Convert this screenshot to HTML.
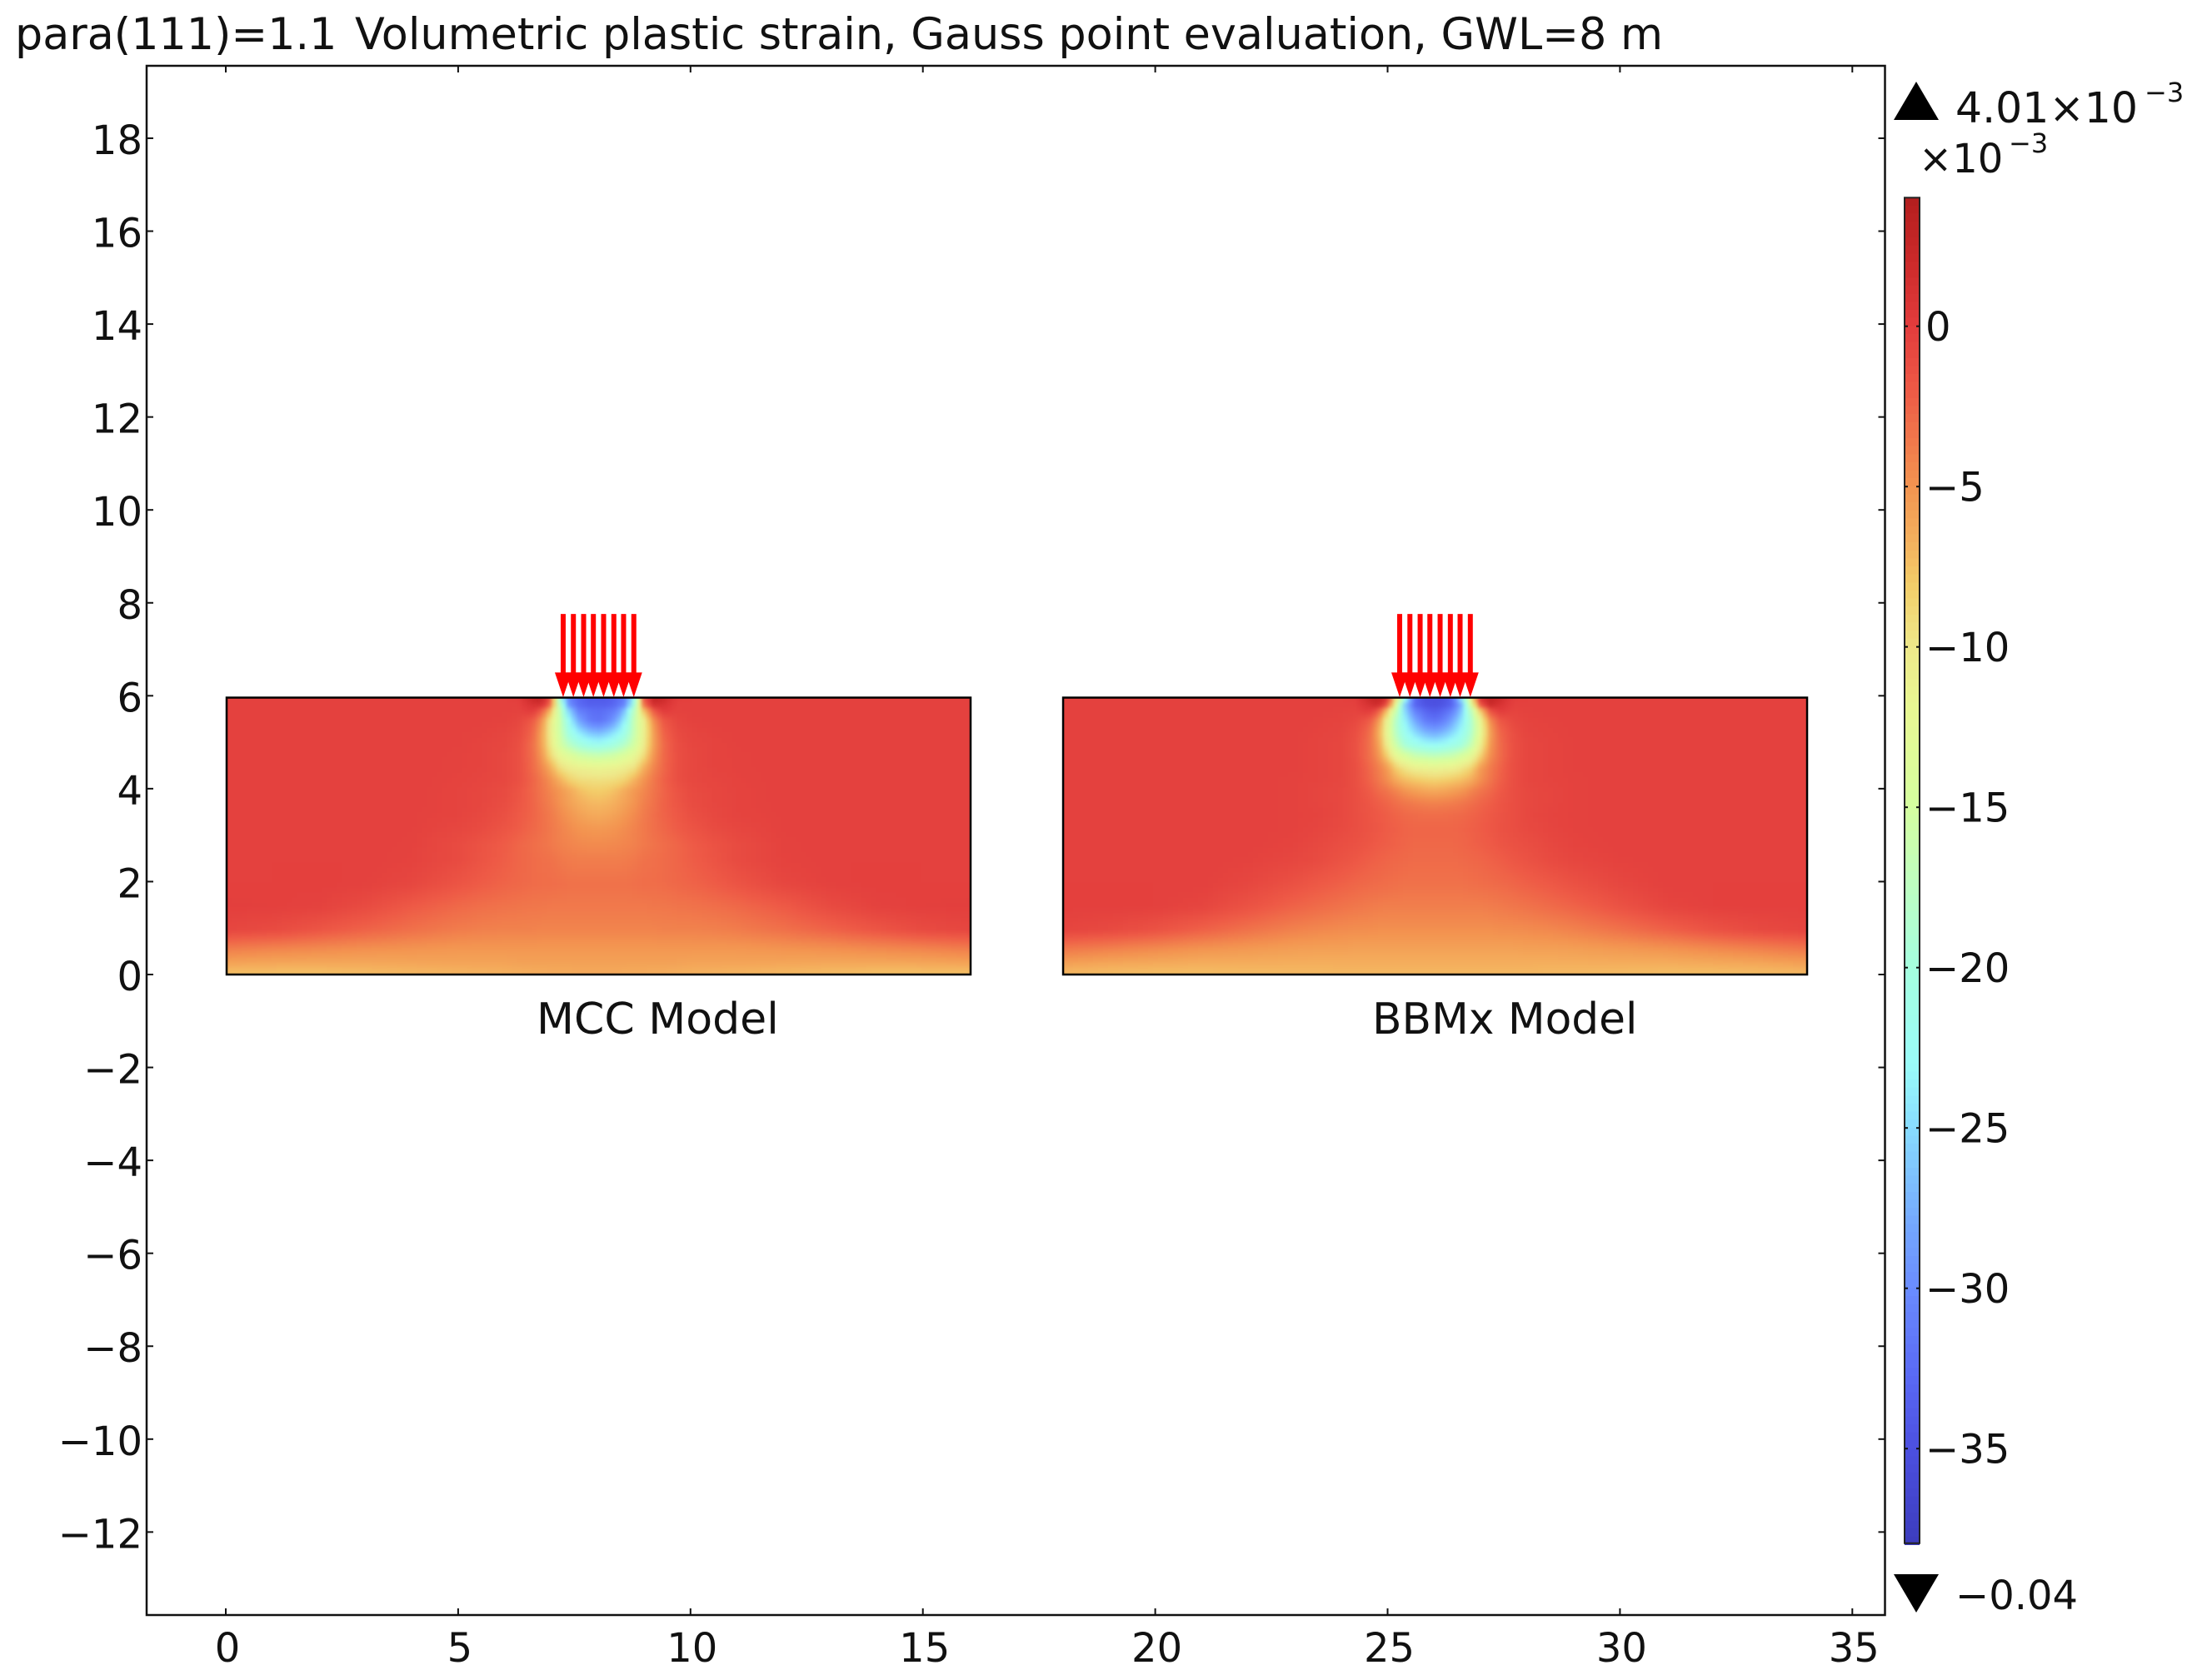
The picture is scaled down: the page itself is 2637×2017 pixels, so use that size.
<!DOCTYPE html>
<html lang="en">
<head>
<meta charset="utf-8">
<title>Volumetric plastic strain</title>
<style>
html,body{margin:0;padding:0;background:#fff;}
svg{display:block;}
text{font-family:"DejaVu Sans","Liberation Sans",sans-serif;fill:#111;font-size:48px;}
</style>
</head>
<body>
<svg id="chart" xmlns="http://www.w3.org/2000/svg" width="2637" height="2017" viewBox="0 0 2637 2017">
  <defs>
    <filter id="soften" filterUnits="userSpaceOnUse" x="200" y="780" width="2060" height="460" color-interpolation-filters="sRGB">
      <feGaussianBlur stdDeviation="2.5"/>
    </filter>
  </defs>
  <text x="18" y="59" style="font-size:52.3px">para(111)=1.1</text>
  <text x="426" y="59" style="font-size:52.4px">Volumetric plastic strain, Gauss point evaluation, GWL=8 m</text>
  <g id="fields"></g>
  <g id="arrows"></g>
  <rect x="176" y="79" width="2086.5" height="1860" fill="none" stroke="#111" stroke-width="2.5"/>
  <g id="ticks"></g>
  <text x="644" y="1241" style="font-size:52.1px">MCC Model</text>
  <text x="1647" y="1241" style="font-size:51.8px">BBMx Model</text>
  <g id="colorbar"></g>
  <polygon points="2300,98 2327,144 2273,144" fill="#000"/>
  <text x="2347" y="147" style="font-size:50.5px">4.01×10</text>
  <text x="2574" y="122" style="font-size:32px">−3</text>
  <text x="2303" y="207">×10</text>
  <text x="2411" y="183" style="font-size:32px">−3</text>
  <polygon points="2273,1890 2327,1890 2300,1936" fill="#000"/>
  <text x="2347" y="1932">−0.04</text>
</svg>
<script>
// Axis tick values
const xTickValues = [0, 5, 10, 15, 20, 25, 30, 35];
const yTickValues = [18, 16, 14, 12, 10, 8, 6, 4, 2, 0, -2, -4, -6, -8, -10, -12];
const colorbarTicks = [0, -5, -10, -15, -20, -25, -30, -35];
const colorbarMax = 4.01;
const colorbarMin = -37.95;

// Colormap, in units of 1e-3 strain
const cmapValues = [4, 2, 0, -2, -5, -7, -8, -10, -12, -15, -18, -20, -23, -25, -28, -30, -33, -35, -38];
const cmapColors = ['#b31e1e', '#cc2a2a', '#e23c3c', '#ee5a46', '#f39450', '#f4b660', '#f3cc68', '#eee88a', '#e8f893', '#d5ffa0', '#b8ffc8', '#a5ffdf', '#9afcf8', '#88dcff', '#74a8ff', '#6a8cff', '#5866f2', '#4c50e0', '#3c3cbc'];

// Panels span 16 m; values below cover the left half up to the load axis at local x = 8
const mccOriginX = 0;
const bbmxOriginX = 18;
const panelWidth = 16;
const panelHeight = 5.96;
const fieldColumns = [0, 1, 2, 3, 4, 5, 5.5, 6, 6.3, 6.6, 6.8, 7, 7.2, 7.4, 7.6, 7.8, 8];
const fieldRows = [5.92, 5.8, 5.68, 5.45, 5.2, 4.95, 4.7, 4.45, 4.2, 3.95, 3.7, 3.45, 3.15, 2.8, 2.45, 1.95, 1.45, 0.95, 0.55, 0.25, 0.05];

const mccField = [
  [-.3, -.3, -.3, -.3, -.3, -.3, -.3, -.3, -.2, 2, 2.5, -2, -21, -31, -33, -34, -34],
  [-.3, -.3, -.3, -.3, -.3, -.3, -.3, -.3, -.3, 1, 1.2, -3.5, -19, -30, -32.5, -33.5, -33.5],
  [-.3, -.3, -.3, -.3, -.3, -.3, -.3, -.35, -.4, .2, -2, -7.5, -17, -26, -31, -32, -32.5],
  [-.3, -.3, -.3, -.3, -.3, -.3, -.35, -.4, -.7, -2, -5, -11, -16, -23, -28, -31, -32],
  [-.3, -.3, -.3, -.3, -.3, -.35, -.4, -.6, -1, -2.6, -5.8, -11, -16, -21, -24, -26, -27],
  [-.3, -.3, -.3, -.3, -.3, -.35, -.5, -.7, -1.2, -3, -5.8, -10.5, -15, -18, -20, -21.5, -22],
  [-.3, -.3, -.3, -.3, -.3, -.4, -.5, -.8, -1.3, -2.9, -5.2, -9, -12, -13.5, -15, -15.5, -16],
  [-.3, -.3, -.3, -.3, -.3, -.4, -.5, -.8, -1.3, -2.8, -4.3, -6.5, -9.5, -10.5, -11, -11.3, -11.5],
  [-.3, -.3, -.3, -.3, -.3, -.45, -.6, -.8, -1.3, -2.5, -3.6, -5, -6.8, -8.5, -9.2, -9.4, -9.5],
  [-.3, -.3, -.3, -.3, -.3, -.5, -.7, -1, -1.6, -2.6, -3.4, -4.3, -5.2, -6.2, -7.3, -7.9, -8.1],
  [-.3, -.3, -.3, -.3, -.3, -.5, -.7, -1.1, -1.7, -2.5, -3.3, -4, -5, -5.8, -6.5, -7, -7.2],
  [-.3, -.3, -.3, -.3, -.35, -.5, -.8, -1.3, -1.9, -2.5, -3.1, -3.7, -4.5, -5.2, -5.8, -6.2, -6.4],
  [-.3, -.3, -.3, -.3, -.35, -.7, -1, -1.6, -2.1, -2.7, -3.1, -3.6, -4.1, -4.6, -5, -5.2, -5.3],
  [-.3, -.3, -.3, -.3, -.4, -1, -1.5, -2.1, -2.6, -3, -3.3, -3.6, -4, -4.2, -4.4, -4.5, -4.5],
  [-.3, -.3, -.3, -.3, -.45, -1, -1.6, -2.2, -2.6, -2.9, -3.1, -3.2, -3.5, -3.7, -3.8, -3.8, -3.8],
  [-.3, -.3, -.25, -.35, -.7, -1.6, -2.1, -2.5, -2.7, -2.9, -3, -3, -3.1, -3.2, -3.2, -3.2, -3.2],
  [-.2, -.25, -.4, -1, -2, -2.8, -3.1, -3.3, -3.4, -3.5, -3.5, -3.6, -3.6, -3.6, -3.6, -3.6, -3.6],
  [-.7, -1, -1.7, -2.5, -3.2, -3.8, -4, -4.1, -4.1, -4.1, -4.2, -4.2, -4.2, -4.2, -4.2, -4.2, -4.2],
  [-3.8, -4.2, -4.5, -4.8, -5, -5.2, -5.2, -5.2, -5.2, -5.2, -5.2, -5.2, -5.2, -5.2, -5.2, -5.2, -5.2],
  [-5.8, -6, -6.1, -6.1, -6, -5.9, -5.9, -5.9, -5.8, -5.8, -5.8, -5.8, -5.8, -5.8, -5.8, -5.8, -5.8],
  [-7.4, -7.4, -7.4, -7.2, -7, -6.8, -6.7, -6.6, -6.5, -6.4, -6.4, -6.3, -6.3, -6.3, -6.2, -6.2, -6.2]
];

const bbmxField = [
  [-.3, -.3, -.3, -.3, -.3, -.3, -.3, -.3, -.2, 1.8, 2.8, .5, -11, -24, -33, -35, -35],
  [-.3, -.3, -.3, -.3, -.3, -.3, -.3, -.3, -.3, 1, 2, -2, -14, -27, -33, -34.5, -35],
  [-.3, -.3, -.3, -.3, -.3, -.3, -.3, -.4, -.5, .2, -1.5, -8, -17, -26, -31, -33, -34],
  [-.3, -.3, -.3, -.3, -.3, -.3, -.4, -.5, -.8, -2, -5, -12, -19, -24, -28, -31, -32],
  [-.3, -.3, -.3, -.3, -.3, -.35, -.45, -.6, -1.2, -2.8, -6, -12.5, -18.5, -22.5, -25, -27, -28],
  [-.3, -.3, -.3, -.3, -.3, -.35, -.5, -.7, -1.3, -3, -5.5, -11, -16.5, -20, -21.5, -22.5, -23],
  [-.3, -.3, -.3, -.3, -.3, -.35, -.5, -.7, -1.3, -3, -4.8, -8.5, -12.5, -14.5, -16, -16.5, -17],
  [-.3, -.3, -.3, -.3, -.3, -.35, -.5, -.7, -1.2, -2.6, -3.8, -5.5, -8.5, -10, -11, -11.3, -11.5],
  [-.3, -.3, -.3, -.3, -.3, -.4, -.5, -.7, -1.2, -2.4, -3.5, -4.8, -6.5, -7.5, -8, -8.4, -8.6],
  [-.3, -.3, -.3, -.3, -.3, -.4, -.6, -.8, -1.2, -2, -2.8, -3.4, -4.2, -5.1, -5.6, -6, -6.2],
  [-.3, -.3, -.3, -.3, -.3, -.4, -.6, -.8, -1.2, -1.7, -2.2, -2.6, -3.1, -3.5, -3.8, -4, -4.1],
  [-.3, -.3, -.3, -.3, -.3, -.4, -.5, -.8, -1.2, -1.6, -1.9, -2.2, -2.5, -2.8, -2.9, -3, -3],
  [-.3, -.3, -.3, -.3, -.3, -.4, -.6, -.9, -1.2, -1.5, -1.8, -2.1, -2.3, -2.5, -2.6, -2.6, -2.6],
  [-.3, -.3, -.3, -.3, -.3, -.5, -.8, -1.2, -1.4, -1.7, -2, -2.2, -2.4, -2.6, -2.7, -2.7, -2.7],
  [-.3, -.3, -.3, -.3, -.4, -.7, -1, -1.5, -1.8, -2.2, -2.4, -2.6, -2.7, -2.8, -2.9, -2.9, -2.9],
  [-.3, -.3, -.3, -.3, -.7, -1.4, -1.9, -2.3, -2.6, -2.8, -2.9, -3, -3.1, -3.2, -3.2, -3.2, -3.2],
  [-.25, -.25, -.3, -.6, -1.5, -2.5, -2.9, -3.3, -3.5, -3.7, -3.8, -3.9, -3.9, -3.9, -3.9, -3.9, -3.9],
  [-.6, -.9, -1.5, -2.4, -3.3, -4.1, -4.4, -4.6, -4.7, -4.7, -4.8, -4.8, -4.8, -4.8, -4.8, -4.8, -4.8],
  [-3.5, -4, -4.5, -5, -5.3, -5.6, -5.7, -5.7, -5.8, -5.8, -5.8, -5.8, -5.8, -5.8, -5.8, -5.8, -5.8],
  [-5.6, -6, -6.2, -6.4, -6.4, -6.5, -6.5, -6.5, -6.5, -6.5, -6.5, -6.5, -6.5, -6.5, -6.5, -6.5, -6.5],
  [-7, -7.2, -7.3, -7.3, -7.2, -7.1, -7.1, -7, -7, -7, -7, -7, -7, -7, -7, -7, -7]
];

// Surface load arrows: model x of each arrow tip
const mccArrowX = [7.26, 7.48, 7.7, 7.91, 8.13, 8.35, 8.56, 8.78];
const bbmxArrowX = [25.26, 25.48, 25.7, 25.91, 26.13, 26.35, 26.56, 26.78];
const arrowTopY = 7.76;
const arrowHeadY = 6.5;
const arrowTipY = 5.97;

const NS = 'http://www.w3.org/2000/svg';
const xOrigin = 271, yOrigin = 1170, unitPx = 55.78;
const xScale = function (v) { return xOrigin + v * unitPx; };
const yScale = function (v) { return yOrigin - v * unitPx; };
const xInvert = function (p) { return (p - xOrigin) / unitPx; };
const yInvert = function (p) { return (yOrigin - p) / unitPx; };
const cbZero = 391.7, cbUnitPx = 38.5;
const cbScale = function (v) { return cbZero - v * cbUnitPx; };

function make(tag, parent, attrs) {
  const el = document.createElementNS(NS, tag);
  for (const k in attrs) el.setAttribute(k, attrs[k]);
  parent.appendChild(el);
  return el;
}

function hexToRgb(h) {
  return [parseInt(h.slice(1, 3), 16), parseInt(h.slice(3, 5), 16), parseInt(h.slice(5, 7), 16)];
}
const cmapRgb = cmapColors.map(hexToRgb);
function colorOf(v) {
  if (v >= cmapValues[0]) return 'rgb(' + cmapRgb[0].join(',') + ')';
  const last = cmapValues.length - 1;
  if (v <= cmapValues[last]) return 'rgb(' + cmapRgb[last].join(',') + ')';
  let i = 0;
  while (v < cmapValues[i + 1]) i++;
  const t = (cmapValues[i] - v) / (cmapValues[i] - cmapValues[i + 1]);
  const a = cmapRgb[i], b = cmapRgb[i + 1];
  return 'rgb(' + Math.round(a[0] + (b[0] - a[0]) * t) + ',' + Math.round(a[1] + (b[1] - a[1]) * t) + ',' + Math.round(a[2] + (b[2] - a[2]) * t) + ')';
}

function bracketAscending(arr, v) {
  if (v <= arr[0]) return [0, 0, 0];
  const n = arr.length - 1;
  if (v >= arr[n]) return [n, n, 0];
  let i = 0;
  while (v > arr[i + 1]) i++;
  return [i, i + 1, (v - arr[i]) / (arr[i + 1] - arr[i])];
}
function bracketDescending(arr, v) {
  if (v >= arr[0]) return [0, 0, 0];
  const n = arr.length - 1;
  if (v <= arr[n]) return [n, n, 0];
  let i = 0;
  while (v < arr[i + 1]) i++;
  return [i, i + 1, (arr[i] - v) / (arr[i] - arr[i + 1])];
}
function sampleField(field, localX, z) {
  const half = panelWidth / 2;
  const lx = localX > half ? panelWidth - localX : localX;
  const cx = bracketAscending(fieldColumns, lx);
  const cy = bracketDescending(fieldRows, z);
  const top = field[cy[0]][cx[0]] * (1 - cx[2]) + field[cy[0]][cx[1]] * cx[2];
  const bot = field[cy[1]][cx[0]] * (1 - cx[2]) + field[cy[1]][cx[1]] * cx[2];
  return top * (1 - cy[2]) + bot * cy[2];
}

function drawPanel(field, originX, id) {
  const fieldsRoot = document.getElementById('fields');
  const left = xScale(originX) + 1;
  const right = xScale(originX + panelWidth) + 1.5;
  const top = yScale(panelHeight);
  const bottom = yScale(0);
  const defs = document.querySelector('defs');
  const clip = make('clipPath', defs, { id: 'clip-' + id });
  make('rect', clip, { x: left, y: top, width: right - left, height: bottom - top });
  const outer = make('g', fieldsRoot, { 'clip-path': 'url(#clip-' + id + ')' });
  
  
  const inner = make('g', outer, { filter: 'url(#soften)', 'shape-rendering': 'crispEdges' });
  const step = 6;
  for (let py = top - 12; py < bottom + 12; py += step) {
    for (let px = left - 12; px < right + 12; px += step) {
      const v = sampleField(field, xInvert(px + step / 2) - originX, yInvert(py + step / 2));
      const cell = make('rect', inner, { x: px, y: py, width: step + 0.5, height: step + 0.5, fill: colorOf(v) });
      
      
    }
  }
  const border = make('rect', fieldsRoot, { x: left, y: top, width: right - left, height: bottom - top, fill: 'none', stroke: '#000', 'stroke-width': 2.5 });
  
  
}
drawPanel(mccField, mccOriginX, 'mcc');
drawPanel(bbmxField, bbmxOriginX, 'bbmx');

function drawArrows(values, id) {
  const root = document.getElementById('arrows');
  values.forEach(function (v) {
    const g = make('g', root, {});
    
    
    const x = xScale(v);
    make('rect', g, { x: x - 3, y: yScale(arrowTopY), width: 6, height: yScale(arrowHeadY) - yScale(arrowTopY) + 1, fill: '#f00' });
    make('polygon', g, { points: (x - 10) + ',' + yScale(arrowHeadY) + ' ' + (x + 10) + ',' + yScale(arrowHeadY) + ' ' + x + ',' + yScale(arrowTipY), fill: '#f00' });
  });
}
drawArrows(mccArrowX, 'mcc');
drawArrows(bbmxArrowX, 'bbmx');

const ticksRoot = document.getElementById('ticks');
function tickLine(x1, y1, x2, y2) {
  const l = make('line', ticksRoot, { x1: x1, y1: y1, x2: x2, y2: y2, stroke: '#111', 'stroke-width': 2 });
  
  
}
function label(v) { return String(v).replace('-', '\u2212'); }
xTickValues.forEach(function (v) {
  const x = xScale(v);
  tickLine(x, 79, x, 87);
  tickLine(x, 1939, x, 1931);
  const t = make('text', ticksRoot, { x: x + 2, y: 1995, 'text-anchor': 'middle' });
  
  
  t.textContent = label(v);
});
yTickValues.forEach(function (v) {
  const y = yScale(v);
  tickLine(176, y, 184, y);
  tickLine(2262.5, y, 2254.5, y);
  const t = make('text', ticksRoot, { x: 171, y: y + 19, 'text-anchor': 'end' });
  
  
  t.textContent = label(v);
});

const cbRoot = document.getElementById('colorbar');
const cbLeft = 2286, cbRight = 2304, cbStep = 0.25;
for (let v = colorbarMax; v > colorbarMin; v -= cbStep) {
  const swatch = make('rect', cbRoot, { x: cbLeft, y: cbScale(v), width: cbRight - cbLeft, height: cbStep * cbUnitPx + 0.6, fill: colorOf(v - cbStep / 2), 'shape-rendering': 'crispEdges' });
  
  
}
const cbBorder = make('rect', cbRoot, { x: cbLeft, y: cbScale(colorbarMax), width: cbRight - cbLeft, height: cbScale(colorbarMin) - cbScale(colorbarMax), fill: 'none', stroke: '#222', 'stroke-width': 2 });


colorbarTicks.forEach(function (v) {
  const y = cbScale(v);
  const a = make('line', cbRoot, { x1: cbLeft, y1: y, x2: cbLeft + 4, y2: y, stroke: '#111', 'stroke-width': 2 });
  
  
  const b = make('line', cbRoot, { x1: cbRight - 4, y1: y, x2: cbRight, y2: y, stroke: '#111', 'stroke-width': 2 });
  
  
  const t = make('text', cbRoot, { x: 2311, y: y + 17.5 });
  
  
  t.textContent = label(v);
});
</script>
</body>
</html>
